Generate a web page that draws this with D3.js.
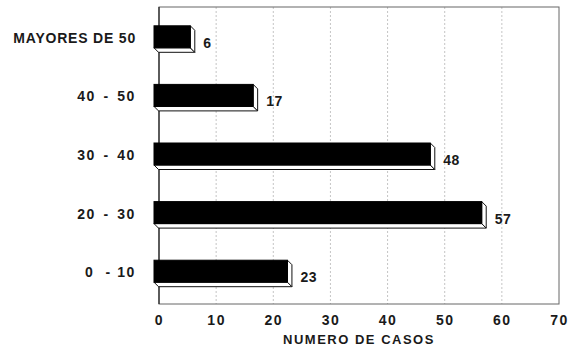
<!DOCTYPE html>
<html><head><meta charset="utf-8">
<script src="https://cdn.jsdelivr.net/npm/d3@7"></script>
<style>
body{margin:0;background:#fff;}
text{font-family:"Liberation Sans",Arial,sans-serif;font-weight:bold;fill:#1a1a1a;}
</style></head>
<body><svg id="c" width="570" height="350"></svg>
<script>
const categories = ["MAYORES DE 50", "40 - 50", "30 - 40", "20 - 30", "0  - 10"];
const values = [6, 17, 48, 57, 23];
const xTicks = [0, 10, 20, 30, 40, 50, 60, 70];
const xTitle = "NUMERO DE CASOS";

const svg = d3.select("#c");
const L = 159, R = 559, T = 7, B = 304;
const x = d3.scaleLinear().domain([0, 70]).range([L, R]);
const y = d3.scaleBand().domain(categories).range([9.5, 302.5]).padding(0);

// grid
svg.append("g").selectAll("line").data(xTicks.filter(t => t > 0 && t < 70)).join("line")
  .attr("x1", d => x(d)).attr("x2", d => x(d)).attr("y1", T).attr("y2", B)
  .attr("stroke", "#aaa").attr("stroke-width", 0.7).attr("stroke-dasharray", "2,2");

// frame
svg.append("rect").attr("x", L).attr("y", T).attr("width", R - L).attr("height", B - T)
  .attr("fill", "none").attr("stroke", "#666").attr("stroke-width", 1);
svg.append("line").attr("x1", L).attr("x2", L).attr("y1", T).attr("y2", B)
  .attr("stroke", "#222").attr("stroke-width", 1.2);

// bars
const d = 4.5, h = 22;
const bars = svg.append("g").selectAll("g").data(categories.map((c, i) => ({c, v: values[i]}))).join("g");
bars.each(function(p, i) {
  const g = d3.select(this);
  const cy = y(p.c) + y.bandwidth() / 2;
  const x0 = x(0) - 5, x1 = x(p.v) - 3;
  const y0 = cy - 13, y1 = y0 + h;
  g.append("polygon")
    .attr("points", [[x0, y1], [x1, y1], [x1 + d, y1 + d], [x0 + d, y1 + d]].map(q => q.join(",")).join(" "))
    .attr("fill", "#fff").attr("stroke", "#111").attr("stroke-width", 1);
  g.append("polygon")
    .attr("points", [[x1, y0], [x1 + d, y0 + d], [x1 + d, y1 + d], [x1, y1]].map(q => q.join(",")).join(" "))
    .attr("fill", "#fff").attr("stroke", "#111").attr("stroke-width", 1);
  g.append("rect").attr("x", x0).attr("y", y0).attr("width", x1 - x0).attr("height", h)
    .attr("fill", "#000").attr("stroke", "#000").attr("stroke-width", 1);
  g.append("text").attr("x", x(p.v) + 10).attr("y", cy + 4).attr("dy", "0.35em")
    .attr("font-size", 14).attr("letter-spacing", 0.5).text(p.v);
  g.append("text").attr("x", 136).attr("y", cy - 1).attr("dy", "0.35em")
    .attr("text-anchor", "end").attr("font-size", 14)
    .attr("letter-spacing", i === 0 ? 0.8 : 1.6)
    .attr("word-spacing", (i === 0 || i === 4) ? 0 : 2)
    .style("white-space", "pre").text(p.c);
});

// x axis
const ax = svg.append("g").attr("transform", `translate(0,${B})`)
  .call(d3.axisBottom(x).tickValues(xTicks).tickSize(0).tickPadding(11));
ax.select(".domain").remove();
ax.selectAll("text").attr("font-size", 14).attr("letter-spacing", 1.5)
  .style("font-family", '"Liberation Sans",Arial,sans-serif').style("font-weight", "bold").attr("fill", "#1a1a1a");

svg.append("text").attr("x", (L + R) / 2).attr("y", 344).attr("text-anchor", "middle")
  .attr("font-size", 13).attr("letter-spacing", 1.5).text(xTitle);
</script></body></html>
